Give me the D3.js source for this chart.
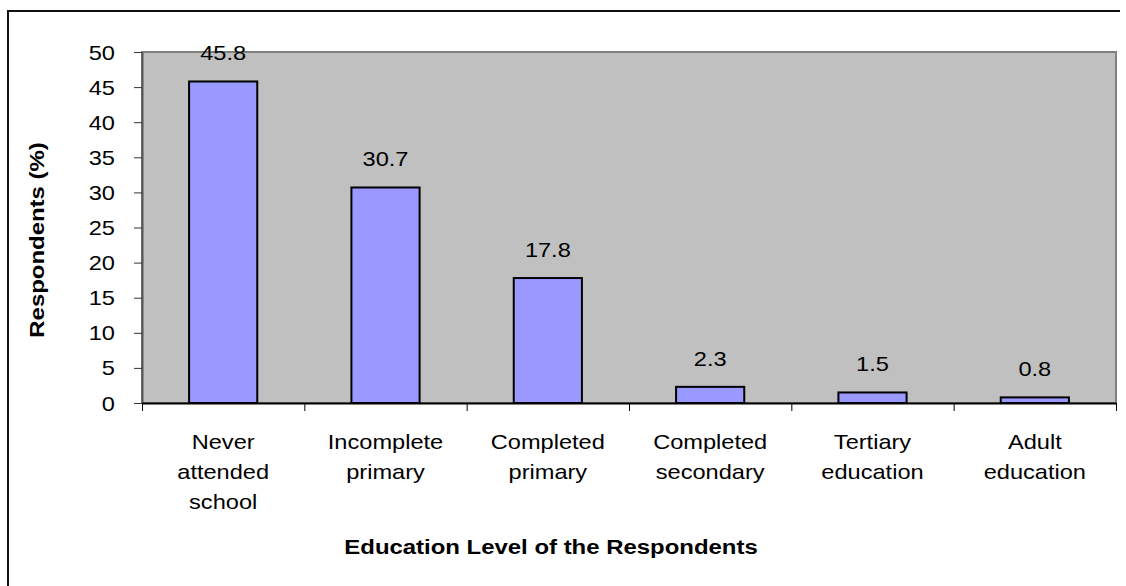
<!DOCTYPE html>
<html>
<head>
<meta charset="utf-8">
<script src="https://cdn.jsdelivr.net/npm/d3@7"></script>
<style>
  html, body { margin: 0; padding: 0; background: #fff; }
  svg { display: block; font-family: "Liberation Sans", Arial, sans-serif; }
</style>
</head>
<body>
<svg id="chart" width="1126" height="586"></svg>
<script>
// Education level distribution of respondents (%)
const categories = [
  ["Never", "attended", "school"],
  ["Incomplete", "primary"],
  ["Completed", "primary"],
  ["Completed", "secondary"],
  ["Tertiary", "education"],
  ["Adult", "education"]
];
const values = [45.8, 30.7, 17.8, 2.3, 1.5, 0.8];
const yTicks = [0, 5, 10, 15, 20, 25, 30, 35, 40, 45, 50];

const FONT = "Liberation Sans, Arial, sans-serif";
const REG_SIZE = 20, REG_STRETCH = 1.18;
const BOLD_SIZE = 21, BOLD_STRETCH = 1.14;

const svg = d3.select("#chart");
const plot = { left: 142, right: 1116, top: 52, bottom: 403 };

// widen a text element horizontally around its anchor point
function placeText(sel, x, y, stretch, rotate) {
  sel.attr("x", 0).attr("y", 0)
    .attr("transform", `translate(${x},${y})${rotate ? ` rotate(${rotate})` : ""} scale(${stretch},1)`);
}

// frame around the whole chart
svg.append("path")
  .attr("d", "M8,586V11H1120")
  .attr("fill", "none")
  .attr("stroke", "#111")
  .attr("stroke-width", 2);

const idx = d3.range(categories.length);
const x = d3.scaleBand()
  .domain(idx)
  .range([plot.left, plot.right])
  .paddingInner(0.58)
  .paddingOuter(0.29);

const y = d3.scaleLinear()
  .domain([0, 50])
  .range([plot.bottom, plot.top]);

// plot area background
svg.append("rect")
  .attr("x", plot.left)
  .attr("y", plot.top)
  .attr("width", plot.right - plot.left)
  .attr("height", plot.bottom - plot.top)
  .attr("fill", "#c0c0c0")
  .attr("stroke", "#808080")
  .attr("stroke-width", 2);

// bars
svg.append("g").selectAll("rect")
  .data(values)
  .join("rect")
  .attr("x", (d, i) => x(i))
  .attr("y", d => y(d))
  .attr("width", x.bandwidth())
  .attr("height", d => y(0) - y(d))
  .attr("fill", "#9999ff")
  .attr("stroke", "#000")
  .attr("stroke-width", 2);

// value labels
svg.append("g").selectAll("text")
  .data(values)
  .join("text")
  .attr("text-anchor", "middle")
  .attr("font-size", REG_SIZE)
  .attr("fill", "#000")
  .text(d => d.toFixed(1))
  .each(function (d, i) {
    placeText(d3.select(this), x(i) + x.bandwidth() / 2, y(d) - 21, REG_STRETCH);
  });

// y axis
const yAxis = svg.append("g")
  .attr("transform", `translate(${plot.left},0)`)
  .call(d3.axisLeft(y).tickValues(yTicks).tickSize(8).tickPadding(19).tickSizeOuter(0));
yAxis.select(".domain").attr("stroke", "#555").attr("stroke-width", 2);
yAxis.selectAll(".tick line").attr("stroke", "#333");
yAxis.selectAll(".tick text")
  .attr("font-size", REG_SIZE)
  .attr("font-family", FONT)
  .attr("fill", "#000")
  .attr("dy", "0.35em")
  .each(function () { placeText(d3.select(this), -27, 0, REG_STRETCH); });

// x axis: ticks at category boundaries
const xEdges = d3.scaleLinear().domain([0, categories.length]).range([plot.left, plot.right]);
const xAxis = svg.append("g")
  .attr("transform", `translate(0,${plot.bottom})`)
  .call(d3.axisBottom(xEdges).tickValues(d3.range(categories.length + 1)).tickSize(8).tickFormat("").tickSizeOuter(0));
xAxis.select(".domain").attr("stroke", "#000").attr("stroke-width", 2);
xAxis.selectAll(".tick line").attr("stroke", "#000");

// category labels, one text per line
const catLines = categories.flatMap((lines, i) => lines.map((line, j) => ({ line, i, j })));
svg.append("g").selectAll("text")
  .data(catLines)
  .join("text")
  .attr("text-anchor", "middle")
  .attr("font-size", REG_SIZE)
  .attr("fill", "#000")
  .text(d => d.line)
  .each(function (d) {
    placeText(d3.select(this), x(d.i) + x.bandwidth() / 2, 449 + d.j * 30, REG_STRETCH);
  });

// axis titles
svg.append("text")
  .attr("text-anchor", "middle")
  .attr("font-size", BOLD_SIZE)
  .attr("font-weight", "bold")
  .text("Education Level of the Respondents")
  .call(s => placeText(s, 551, 554, BOLD_STRETCH));

svg.append("text")
  .attr("text-anchor", "middle")
  .attr("font-size", BOLD_SIZE)
  .attr("font-weight", "bold")
  .text("Respondents (%)")
  .call(s => placeText(s, 44, 240, BOLD_STRETCH, -90));
</script>
</body>
</html>
